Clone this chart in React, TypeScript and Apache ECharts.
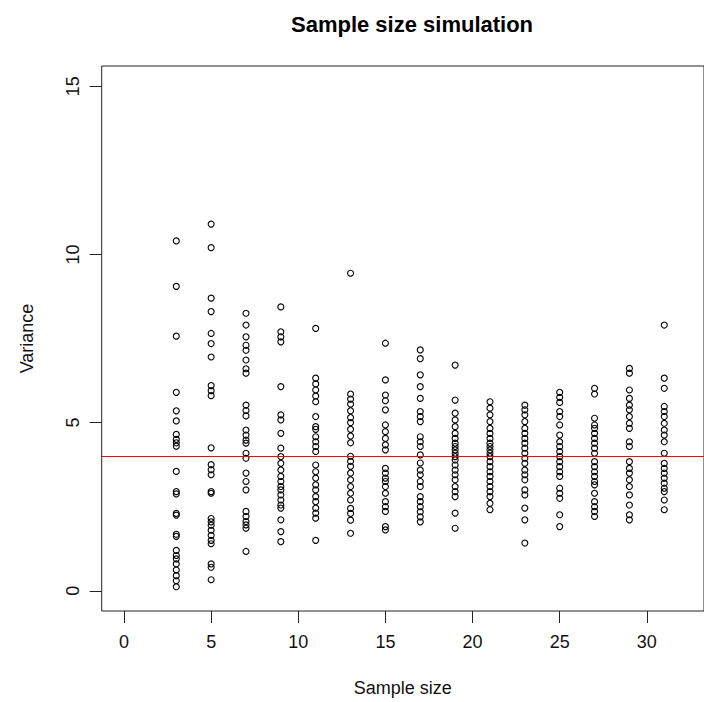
import React, { useEffect, useRef } from "react";
import * as echarts from "echarts";

const sampleSizes = [3, 5, 7, 9, 11, 13, 15, 17, 19, 21, 23, 25, 27, 29, 31];

const v3 = [10.4, 9.05, 7.57, 5.9, 5.35, 5.05, 4.65, 4.5, 4.4, 4.3, 3.55, 2.95, 2.88, 2.3, 2.25, 1.68, 1.62, 1.2, 1.05, 0.95, 0.8, 0.62, 0.45, 0.3, 0.12];
const v5 = [10.9, 10.2, 8.7, 8.3, 7.65, 7.35, 6.95, 6.1, 5.95, 5.8, 4.25, 3.75, 3.6, 3.45, 2.95, 2.9, 2.15, 2.05, 1.95, 1.8, 1.65, 1.5, 1.4, 0.8, 0.7, 0.33];
const v7 = [8.25, 7.9, 7.55, 7.3, 7.15, 6.86, 6.6, 6.47, 5.52, 5.36, 5.2, 4.78, 4.63, 4.48, 4.39, 4.09, 3.94, 3.5, 3.25, 3.0, 2.36, 2.21, 2.06, 1.96, 1.86, 1.17];
const v9 = [8.44, 7.7, 7.55, 7.4, 6.07, 5.23, 5.08, 4.68, 4.24, 3.99, 3.79, 3.59, 3.4, 3.25, 3.1, 3.0, 2.85, 2.7, 2.55, 2.46, 2.11, 1.76, 1.46];
const v11 = [7.8, 6.32, 6.15, 5.97, 5.79, 5.62, 5.18, 4.88, 4.8, 4.58, 4.43, 4.29, 4.14, 3.74, 3.54, 3.35, 3.15, 3.0, 2.8, 2.65, 2.46, 2.31, 2.16, 1.5];
const v13 = [9.44, 5.85, 5.7, 5.55, 5.35, 5.15, 5.0, 4.8, 4.6, 4.4, 4.0, 3.85, 3.7, 3.5, 3.3, 3.1, 2.9, 2.7, 2.45, 2.3, 2.1, 1.71];
const v15 = [7.36, 6.27, 5.82, 5.65, 5.38, 4.93, 4.73, 4.53, 4.34, 4.19, 3.64, 3.5, 3.35, 3.25, 3.1, 2.9, 2.65, 2.5, 2.36, 1.91, 1.81];
const v17 = [7.16, 6.9, 6.42, 6.07, 5.72, 5.33, 5.18, 5.03, 4.58, 4.43, 4.29, 4.04, 3.8, 3.59, 3.45, 3.25, 3.1, 2.8, 2.65, 2.5, 2.35, 2.2, 2.05];
const v19 = [6.71, 5.67, 5.28, 5.08, 4.88, 4.68, 4.53, 4.39, 4.29, 4.19, 4.09, 3.99, 3.89, 3.74, 3.59, 3.45, 3.3, 3.1, 2.95, 2.8, 2.31, 1.86];
const v21 = [5.62, 5.43, 5.23, 5.03, 4.83, 4.68, 4.53, 4.39, 4.29, 4.19, 4.09, 3.99, 3.84, 3.69, 3.54, 3.4, 3.25, 3.1, 2.95, 2.8, 2.6, 2.41];
const v23 = [5.52, 5.38, 5.23, 5.03, 4.83, 4.68, 4.53, 4.39, 4.24, 4.09, 3.94, 3.79, 3.59, 3.45, 3.3, 3.0, 2.85, 2.46, 2.11, 1.42];
const v25 = [5.9, 5.75, 5.6, 5.33, 5.18, 4.93, 4.63, 4.43, 4.29, 4.14, 3.99, 3.84, 3.69, 3.54, 3.4, 3.05, 2.9, 2.75, 2.26, 1.91];
const v27 = [6.02, 5.85, 5.13, 4.93, 4.83, 4.68, 4.53, 4.39, 4.24, 4.09, 3.84, 3.69, 3.54, 3.4, 3.25, 3.15, 2.9, 2.65, 2.5, 2.36, 2.21];
const v29 = [6.61, 6.47, 5.97, 5.72, 5.52, 5.38, 5.18, 4.98, 4.83, 4.43, 4.29, 3.84, 3.64, 3.5, 3.3, 3.1, 2.85, 2.55, 2.26, 2.11];
const v31 = [7.9, 6.32, 6.02, 5.48, 5.33, 5.18, 4.98, 4.78, 4.63, 4.43, 4.09, 3.79, 3.64, 3.5, 3.35, 3.2, 3.05, 2.95, 2.7, 2.41];

const variances = [v3, v5, v7, v9, v11, v13, v15, v17, v19, v21, v23, v25, v27, v29, v31];

const xTicks = [0, 5, 10, 15, 20, 25, 30];
const yTicks = [0, 5, 10, 15];
const trueVariance = 4;

const FONT = "'Liberation Sans', Arial, sans-serif";

export default function App() {
  const ref = useRef<HTMLDivElement>(null);

  useEffect(() => {
    if (!ref.current) return;
    const chart = echarts.init(ref.current, null, { renderer: "svg" });
    const data: number[][] = [];
    sampleSizes.forEach((n, i) => {
      variances[i].forEach((v) => data.push([n, v]));
    });

    chart.setOption({
      animation: false,
      backgroundColor: "#ffffff",
      textStyle: { fontFamily: FONT },
      title: {
        text: "Sample size simulation",
        left: 407,
        top: 8,
        textAlign: "center",
        textStyle: { fontSize: 22, fontWeight: "bold", color: "#000", fontFamily: FONT },
      },
      grid: {
        left: 101.7,
        right: -9,
        top: 66,
        bottom: 90.3,
        show: true,
        borderColor: "#222",
        borderWidth: 1,
        backgroundColor: "transparent",
      },
      xAxis: {
        type: "value",
        min: -1.28,
        max: 33.28,
        splitLine: { show: false },
        axisLine: { show: false, onZero: false },
        axisTick: { show: true, inside: false, length: 12, lineStyle: { color: "#222", width: 1 }, customValues: xTicks },
        axisLabel: { customValues: xTicks, fontSize: 18, margin: 22, color: "#111", fontFamily: FONT },
        name: "Sample size",
        nameLocation: "middle",
        nameGap: 68,
        nameTextStyle: { fontSize: 18, color: "#111", fontFamily: FONT },
      },
      yAxis: {
        type: "value",
        min: -0.6,
        max: 15.6,
        splitLine: { show: false },
        axisLine: { show: false, onZero: false },
        axisTick: { show: true, inside: false, length: 12, lineStyle: { color: "#222", width: 1 }, customValues: yTicks },
        axisLabel: { customValues: yTicks, rotate: 90, fontSize: 18, margin: 20, color: "#111", fontFamily: FONT },
        name: "Variance",
        nameLocation: "middle",
        nameGap: 66,
        nameTextStyle: { fontSize: 18, color: "#111", fontFamily: FONT },
      },
      series: [
        {
          type: "scatter",
          data,
          symbol: "circle",
          symbolSize: 6,
          itemStyle: { color: "rgba(0,0,0,0)", borderColor: "#000", borderWidth: 1.1, opacity: 1 },
          markLine: {
            silent: true,
            symbol: ["none", "none"],
            label: { show: false },
            lineStyle: { color: "#ff0000", width: 1, type: "solid" },
            data: [{ yAxis: trueVariance }],
          },
        },
      ],
    });
    return () => chart.dispose();
  }, []);

  return (
    <div
      ref={ref}
      style={{ position: "fixed", left: 0, top: 0, width: 704, height: 702, background: "#fff" }}
    />
  );
}
